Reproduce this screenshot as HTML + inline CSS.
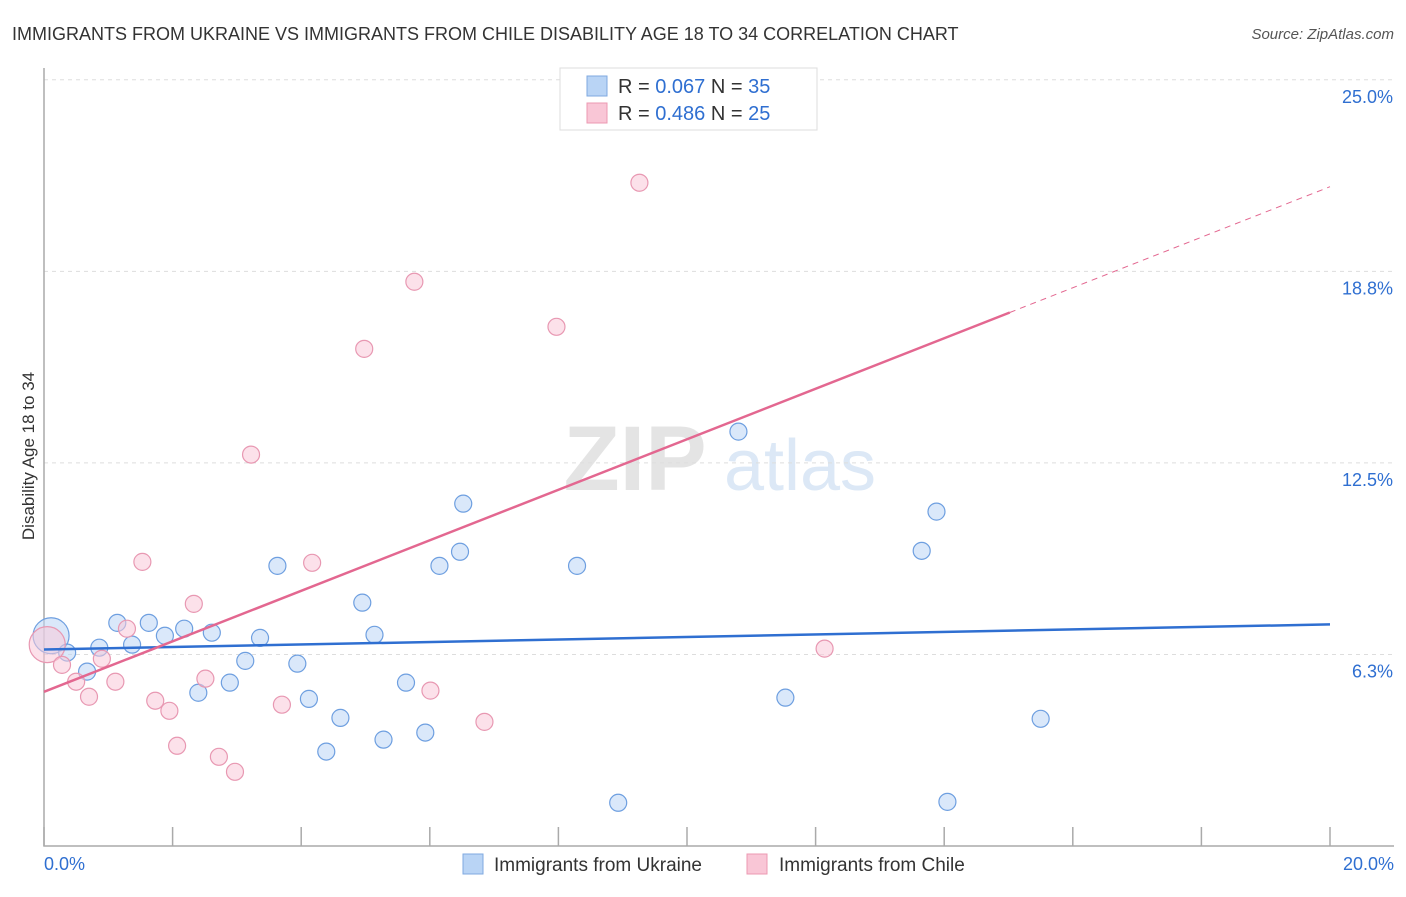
<!DOCTYPE html>
<html><head><meta charset="utf-8"><style>
body{margin:0;background:#fff;font-family:"Liberation Sans",sans-serif;}
svg text{font-family:"Liberation Sans",sans-serif;}
</style></head><body>
<svg id="chart" width="1406" height="892">
<text x="12" y="40" font-size="18" fill="#333">IMMIGRANTS FROM UKRAINE VS IMMIGRANTS FROM CHILE DISABILITY AGE 18 TO 34 CORRELATION CHART</text>
<text x="1394" y="39" font-size="15" fill="#555" font-style="italic" text-anchor="end">Source: ZipAtlas.com</text>
<g><text x="635" y="490" font-size="92" fill="#e4e4e4" text-anchor="middle" font-family="Liberation Serif" font-weight="bold">ZIP</text><text x="800" y="490" font-size="72" fill="#dce8f6" text-anchor="middle">atlas</text></g>
<g id="grid"></g><g id="axes"></g><g id="marks"></g>
<text x="34" y="456" font-size="17" fill="#333" text-anchor="middle" transform="rotate(-90 34 456)">Disability Age 18 to 34</text>
<g>
<rect x="560" y="68" width="257" height="62" fill="#fff" stroke="#ddd"/>
<rect x="587" y="76" width="20" height="20" fill="#b9d4f5" stroke="#7fa9e0"/>
<rect x="587" y="103" width="20" height="20" fill="#f9c6d6" stroke="#ec98b2"/>
<text x="618" y="93" font-size="20" fill="#333">R = <tspan fill="#2f6fd1">0.067</tspan>    N = <tspan fill="#2f6fd1">35</tspan></text>
<text x="618" y="120" font-size="20" fill="#333">R = <tspan fill="#2f6fd1">0.486</tspan>    N = <tspan fill="#2f6fd1">25</tspan></text>
</g>
<g>
<rect x="463" y="854" width="20" height="20" fill="#b9d4f5" stroke="#7fa9e0"/>
<text x="494" y="871" font-size="19" fill="#333">Immigrants from Ukraine</text>
<rect x="747" y="854" width="20" height="20" fill="#f9c6d6" stroke="#ec98b2"/>
<text x="779" y="871" font-size="19" fill="#333">Immigrants from Chile</text>
</g>
</svg>
<script>
const yTicks=[6.25,12.5,18.75,25];
const yTickLabels=["6.3%","12.5%","18.8%","25.0%"];
const xTickVals=[0,2,4,6,8,10,12,14,16,18,20];
const ukraineX=[0.11,0.36,0.67,0.86,1.14,1.37,1.63,1.88,2.18,2.40,2.61,2.89,3.13,3.36,3.63,3.94,4.12,4.39,4.61,4.95,5.14,5.28,5.63,5.93,6.15,6.47,6.52,8.29,8.93,10.80,11.53,13.65,13.88,14.05,15.50];
const ukraineY=[6.86,6.31,5.69,6.47,7.28,6.57,7.28,6.86,7.09,5.00,6.96,5.33,6.04,6.79,9.14,5.95,4.80,3.08,4.18,7.94,6.89,3.47,5.33,3.70,9.14,9.60,11.17,9.14,1.41,13.52,4.84,9.63,10.91,1.44,4.15];
const chileX=[0.05,0.28,0.50,0.70,0.90,1.11,1.29,1.53,1.73,1.95,2.07,2.33,2.51,2.72,2.97,3.22,3.70,4.17,4.98,5.76,6.01,6.85,7.97,9.26,12.14];
const chileY=[6.57,5.91,5.36,4.87,6.11,5.36,7.09,9.27,4.74,4.41,3.27,7.90,5.46,2.91,2.42,12.77,4.61,9.24,16.22,18.41,5.07,4.05,16.94,21.64,6.44];
const ukraineTrend=[6.41,0.041];
const chileTrend=[5.03,0.824];
const chileSolidEnd=15.02;
const NS="http://www.w3.org/2000/svg";
const sx=v=>44+v*64.3, sy=v=>846-v*30.65;
function mk(p,t,a){const e=document.createElementNS(NS,t);for(const k in a)e.setAttribute(k,a[k]);document.getElementById(p).appendChild(e);return e;}
yTicks.forEach((v,i)=>{
 const l=mk('grid','line',{x1:44,x2:1394,y1:sy(v),y2:sy(v),stroke:'#ddd','stroke-dasharray':'4 4'});
 
 
 const t=mk('axes','text',{x:1393,y:sy(v)+23,'font-size':18,fill:'#2f6fd1','text-anchor':'end'});t.textContent=yTickLabels[i];
 
 
});
const ax=mk('axes','path',{d:'M44 68V846H1394',fill:'none',stroke:'#aaa','stroke-width':1.5});


xTickVals.forEach(v=>{const t=mk('axes','line',{x1:sx(v),x2:sx(v),y1:827,y2:846,stroke:'#aaa','stroke-width':1.5});
 
 });
[["0.0%",44,'start'],["20.0%",1394,'end']].forEach(a=>{const t=mk('axes','text',{x:a[1],y:870,'font-size':18,fill:'#2f6fd1','text-anchor':a[2]});t.textContent=a[0];
 
 });
function pts(X,Y,fill,stroke,name){X.forEach((x,i)=>{const r=i===0?18:8.5;
 const c=mk('marks','circle',{cx:sx(x),cy:sy(Y[i]),r:r,fill:fill,'fill-opacity':0.55,stroke:stroke,'stroke-width':1.2});
 
 });}
pts(ukraineX,ukraineY,'#bcd5f5','#6e9fe0','ukraine-point');
pts(chileX,chileY,'#f9c9d8','#e898b2','chile-point');
let l=mk('marks','line',{x1:sx(0),y1:sy(ukraineTrend[0]),x2:sx(20),y2:sy(ukraineTrend[0]+20*ukraineTrend[1]),stroke:'#2f6fd1','stroke-width':2.5});


l=mk('marks','line',{x1:sx(0),y1:sy(chileTrend[0]),x2:sx(chileSolidEnd),y2:sy(chileTrend[0]+chileSolidEnd*chileTrend[1]),stroke:'#e36790','stroke-width':2.5});


l=mk('marks','line',{x1:sx(chileSolidEnd),y1:sy(chileTrend[0]+chileSolidEnd*chileTrend[1]),x2:sx(20),y2:sy(chileTrend[0]+20*chileTrend[1]),stroke:'#e36790','stroke-width':1,'stroke-dasharray':'6 5'});


</script>
</body></html>
